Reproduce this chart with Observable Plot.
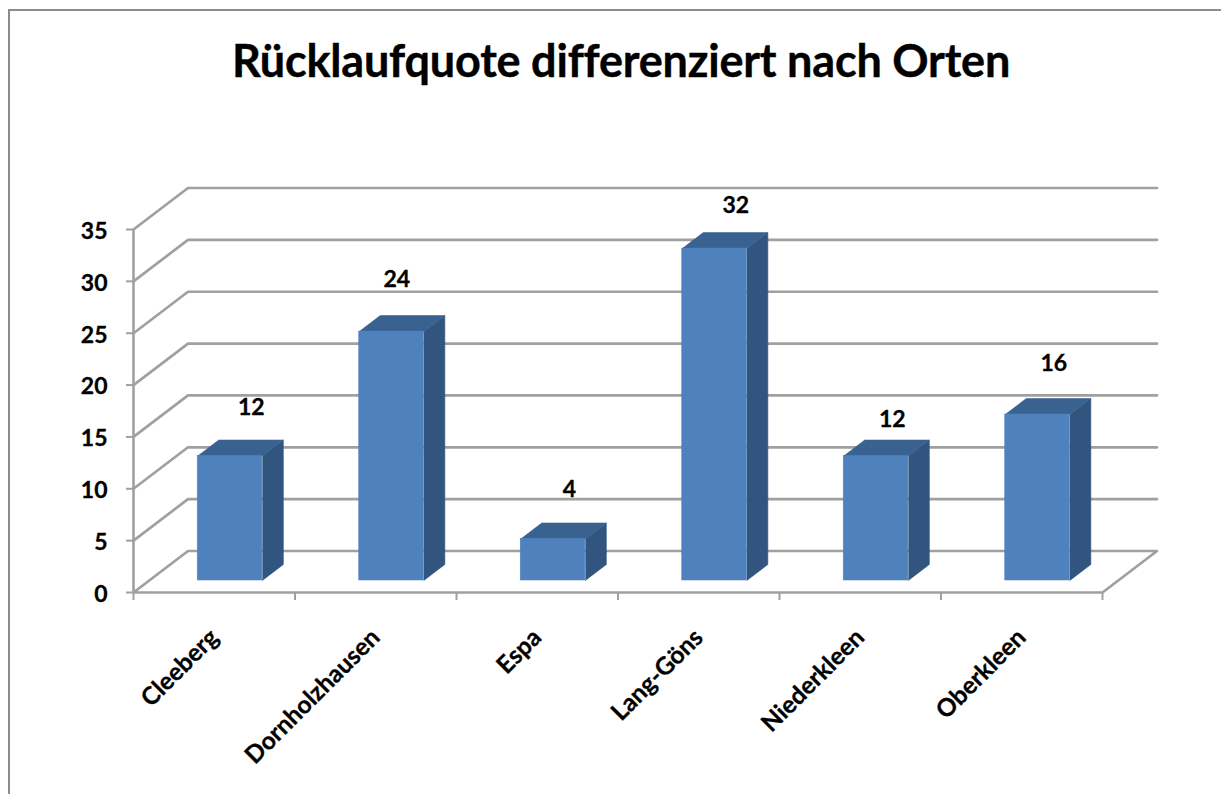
<!DOCTYPE html>
<html lang="de">
<head>
<meta charset="utf-8">
<script src="https://cdn.jsdelivr.net/npm/d3@7"></script>
<script src="https://cdn.jsdelivr.net/npm/@observablehq/plot@0.6"></script>
<style>
html,body{margin:0;padding:0;background:#fff;overflow:hidden}
#frame{position:absolute;left:8px;top:9px;right:-4px;bottom:-4px;border:2px solid #8c8c8c}
#title{position:absolute;left:0;width:1242px;top:32px;text-align:center;font:bold 45px Lato,sans-serif;color:#000;letter-spacing:-.2px;line-height:56px;-webkit-text-stroke:.4px #000}
#chart{position:absolute;left:0;top:100px}
svg{overflow:visible}
</style>
</head>
<body>
<div id="frame"></div>
<div id="title">Rücklaufquote differenziert nach Orten</div>
<div id="chart"></div>
<script>
const categories = ["Cleeberg","Dornholzhausen","Espa","Lang-Göns","Niederkleen","Oberkleen"];
const values = [12,24,4,32,12,16];
const yTicks = [0,5,10,15,20,25,30,35];
const xTicks = [0,1,2,3,4,5,6];
const labelDx = [-22,-38,-27,-22,-27,-27];
const labelDy = [1,-3,0,6,13,-2];

// oblique projection into data units: depth 0 = front, 1 = back wall
const depthX = 54.5/161.5, depthY = 4;
const proj = (x,v,d) => ({x:x+d*depthX, y:v+d*depthY});
const d1 = 0.29, d2 = 0.675, half = 0.2;

const gridPaths = yTicks.flatMap(t =>
  (t===0 ? [[0,0],[0,1],[6,1],[6,0],[0,0]] : [[0,0],[0,1],[6,1]])
   .map(([x,d]) => ({...proj(x,t,d), t})));

const bars = categories.map((c,i)=>({c,v:values[i],l:i+.5-half,r:i+.5+half}));
const poly = (b,pts)=>pts.map(([x,v,d])=>({...proj(x,v,d),c:b.c}));
const sides = bars.flatMap(b=>poly(b,[[b.r,0,d1],[b.r,0,d2],[b.r,b.v,d2],[b.r,b.v,d1]]));
const tops  = bars.flatMap(b=>poly(b,[[b.l,b.v,d1],[b.l,b.v,d2],[b.r,b.v,d2],[b.r,b.v,d1]]));
const fronts = bars.map(b=>({x1:proj(b.l,0,d1).x,x2:proj(b.r,0,d1).x,y1:proj(0,0,d1).y,y2:proj(0,b.v,d1).y}));

const font = "Lato,sans-serif";
const grey = "#a0a0a0";
const boldText = {fontWeight:"bold",fill:"#000",stroke:"#000",strokeWidth:.3};

const plot = Plot.plot({
  width:1221,height:694,
  marginLeft:133,marginRight:119,marginTop:129,marginBottom:202,
  x:{domain:[0,6],axis:null},
  y:{domain:[0,35],axis:null},
  style:{fontFamily:font,background:"transparent"},
  marks:[
    Plot.line(gridPaths,{x:"x",y:"y",z:"t",stroke:grey,strokeWidth:2.7,curve:"linear"}),
    Plot.ruleX([0],{y1:0,y2:35,stroke:grey,strokeWidth:2.6}),
    Plot.axisY({ticks:yTicks,tickSize:7,tickFormat:()=>"",stroke:grey,strokeWidth:2,label:null}),
    Plot.axisX({ticks:xTicks,tickSize:8,tickFormat:()=>"",stroke:grey,strokeWidth:2,label:null}),
    Plot.text(yTicks,{x:()=>0,y:d=>d,text:d=>String(d),textAnchor:"end",dx:-26,dy:2,fontSize:23,...boldText}),
    Plot.line(sides,{x:"x",y:"y",z:"c",fill:"#31557f",stroke:"#31557f",strokeWidth:.6}),
    Plot.line(tops,{x:"x",y:"y",z:"c",fill:"#3a6291",stroke:"#3a6291",strokeWidth:.6}),
    Plot.rectY(fronts,{x1:"x1",x2:"x2",y1:"y1",y2:"y2",fill:"#4f81bd",stroke:"#4f81bd",strokeWidth:.6,inset:0}),
    ...bars.map((b,i)=>Plot.text([b],{
      x:d=>proj(d.r,0,d2).x,
      y:d=>proj(0,d.v,d2).y,
      text:d=>String(d.v),
      dx:labelDx[i]-10,dy:-33+labelDy[i],
      fontSize:23,...boldText})),
    Plot.text(categories,{
      x:(d,i)=>i+.5,
      y:()=>0,
      text:d=>d,
      rotate:-45,textAnchor:"end",
      dx:0,dy:41,
      fontSize:24.5,...boldText})
  ]
});
document.getElementById("chart").append(plot);
</script>
</body>
</html>
